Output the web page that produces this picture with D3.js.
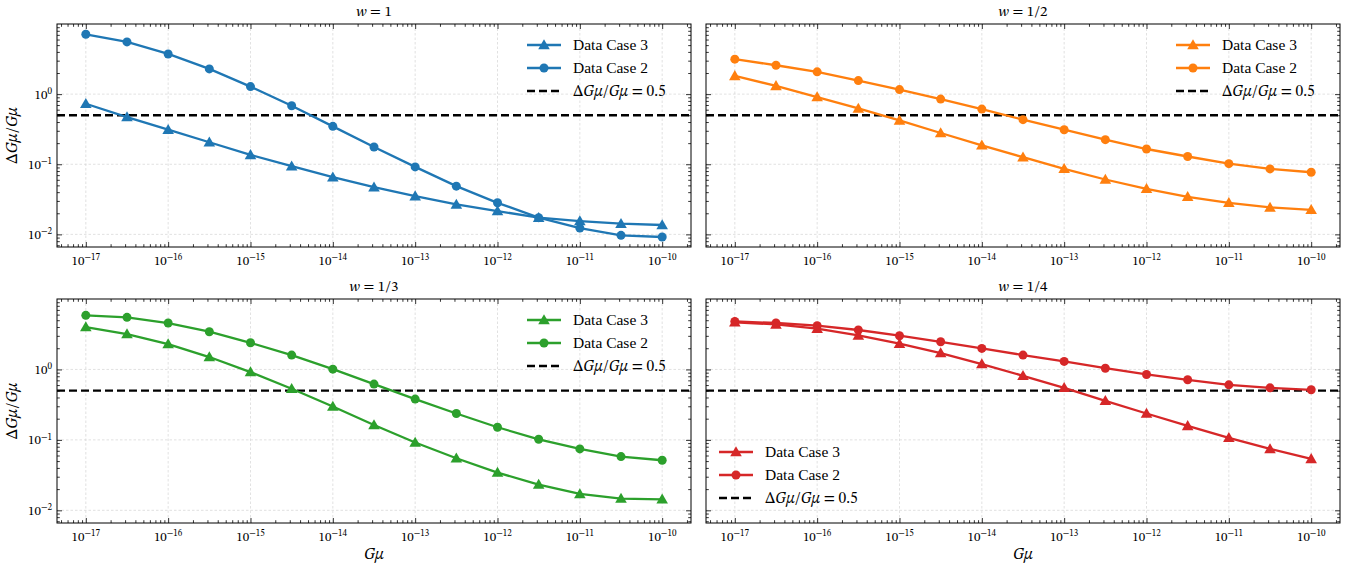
<!DOCTYPE html>
<html>
<head>
<meta charset="utf-8">
<script src="https://cdn.jsdelivr.net/npm/d3@7"></script>
<style>
  body { margin: 0; background: #fff; }
</style>
</head>
<body>
<div id="chart"></div>
<script>
// G mu values: half-decade steps from 1e-17 to 1e-10
const gmu = d3.range(0, 15).map(i => Math.pow(10, -17 + i / 2));

const titles = ["1", "1/2", "1/3", "1/4"];
const colors = ["#1f77b4", "#ff7f0e", "#2ca02c", "#d62728"];

const case3_w1 = [0.729, 0.471, 0.311, 0.206, 0.136, 0.0937, 0.0654, 0.0471, 0.0351, 0.0267, 0.0215, 0.0173, 0.0155, 0.0142, 0.0136];
const case2_w1 = [7.13, 5.55, 3.74, 2.29, 1.28, 0.683, 0.347, 0.176, 0.0917, 0.0487, 0.0282, 0.0173, 0.0123, 0.00968, 0.00917];

const case3_w2 = [1.82, 1.31, 0.906, 0.625, 0.422, 0.279, 0.186, 0.126, 0.0859, 0.0606, 0.0446, 0.0343, 0.0282, 0.0242, 0.0224];
const case2_w2 = [3.15, 2.58, 2.08, 1.56, 1.16, 0.849, 0.612, 0.432, 0.311, 0.224, 0.165, 0.129, 0.102, 0.0859, 0.0769];

const case3_w3 = [4.00, 3.18, 2.29, 1.50, 0.916, 0.531, 0.298, 0.163, 0.0917, 0.0549, 0.0343, 0.0232, 0.0171, 0.0147, 0.0143];
const case2_w3 = [5.86, 5.49, 4.56, 3.43, 2.39, 1.60, 1.01, 0.620, 0.379, 0.237, 0.151, 0.102, 0.0744, 0.0579, 0.0514];

const case3_w4 = [4.66, 4.36, 3.79, 3.04, 2.32, 1.71, 1.19, 0.813, 0.548, 0.359, 0.237, 0.158, 0.107, 0.0744, 0.0537];
const case2_w4 = [4.81, 4.56, 4.18, 3.63, 3.01, 2.47, 1.99, 1.60, 1.30, 1.04, 0.849, 0.713, 0.605, 0.548, 0.514];

const threshold = 0.5;
const xMajor = d3.range(-17, -9).map(e => Math.pow(10, e));
const yMajor = [1e-2, 1e-1, 1e0];

const case3 = [case3_w1, case3_w2, case3_w3, case3_w4];
const case2 = [case2_w1, case2_w2, case2_w3, case2_w4];
const legendPos = ["ur", "ur", "ur", "ll"];

const W = 1372, H = 563;
const cols = [[57, 691], [706, 1340]];
const rows = [[24, 247], [299, 523]];
const FONT = "Liberation Serif";
const MATH = "STIX Two Text";

const svg = d3.select("#chart").append("svg")
  .attr("width", W).attr("height", H);

function minorTicks(lo, hi, dom) {
  const out = [];
  for (let e = lo; e <= hi; e++)
    for (let m = 2; m <= 9; m++) {
      const v = m * Math.pow(10, e);
      if (v >= dom[0] && v <= dom[1]) out.push(v);
    }
  return out;
}

const xDom = [Math.pow(10, -17.35), Math.pow(10, -9.65)];
const yDom = [Math.pow(10, -2.18), Math.pow(10, 1.0)];
const xMinor = minorTicks(-18, -10, xDom);
const yMinor = minorTicks(-3, 0, yDom);

function txt(sel, fam) {
  return sel.append("text").attr("font-family", fam || FONT).attr("fill", "#000");
}

function supLabel(sel, exp, fs) {
  sel.append("tspan").text("10");
  sel.append("tspan").attr("dy", "-0.5em").attr("font-size", fs * 0.7)
     .text(exp < 0 ? "\u2212" + (-exp) : exp);
}

function mathGmu(t, withEq) {
  t.append("tspan").text("\u0394");
  t.append("tspan").attr("font-style", "italic").text("G\u03bc");
  t.append("tspan").text("/");
  t.append("tspan").attr("font-style", "italic").text("G\u03bc");
  if (withEq) t.append("tspan").text(" = 0.5");
}

function drawPanel(k) {
  const c = cols[k % 2], r = rows[Math.floor(k / 2)];
  const w = c[1] - c[0], h = r[1] - r[0];
  const g = svg.append("g").attr("transform", `translate(${c[0]},${r[0]})`);

  const x = d3.scaleLog().domain(xDom).range([0, w]);
  const y = d3.scaleLog().domain(yDom).range([h, 0]);

  // grid
  g.append("g").selectAll("line").data(xMajor).join("line")
    .attr("x1", d => x(d)).attr("x2", d => x(d)).attr("y1", 0).attr("y2", h)
    .attr("stroke", "#d4d4d4").attr("stroke-width", 0.7).attr("stroke-dasharray", "2.5,2");
  g.append("g").selectAll("line").data(yMajor).join("line")
    .attr("y1", d => y(d)).attr("y2", d => y(d)).attr("x1", 0).attr("x2", w)
    .attr("stroke", "#d4d4d4").attr("stroke-width", 0.7).attr("stroke-dasharray", "2.5,2");

  // axes (ticks inward, all four sides)
  const axes = [
    [() => d3.axisBottom(x), `translate(0,${h})`, xMajor, xMinor],
    [() => d3.axisTop(x), null, xMajor, xMinor],
    [() => d3.axisLeft(y), null, yMajor, yMinor],
    [() => d3.axisRight(y), `translate(${w},0)`, yMajor, yMinor]
  ];
  axes.forEach(([make, tr, maj, mino]) => {
    [[maj, 5], [mino, 2.8]].forEach(([vals, size]) => {
      const a = g.append("g").call(make().tickValues(vals).tickSizeInner(-size)
        .tickSizeOuter(0).tickFormat(""));
      if (tr) a.attr("transform", tr);
      a.select(".domain").remove();
      a.selectAll("line").attr("stroke", "#000").attr("stroke-width", 0.8);
    });
  });

  // tick labels
  xMajor.forEach(v => {
    const t = txt(g, MATH).attr("x", x(v)).attr("y", h + 18)
      .attr("text-anchor", "middle").attr("font-size", 13);
    supLabel(t, Math.round(Math.log10(v)), 13);
  });
  if (k % 2 === 0) {
    yMajor.forEach(v => {
      const t = txt(g, MATH).attr("x", -5).attr("y", y(v) + 4.5)
        .attr("text-anchor", "end").attr("font-size", 13);
      supLabel(t, Math.round(Math.log10(v)), 13);
    });
    const yl = txt(g, MATH)
      .attr("transform", `translate(-40,${h / 2}) rotate(-90)`)
      .attr("text-anchor", "middle").attr("font-size", 16);
    mathGmu(yl, false);
  }
  if (k >= 2) {
    txt(g, MATH).attr("x", w / 2).attr("y", h + 36)
      .attr("text-anchor", "middle").attr("font-size", 16)
      .attr("font-style", "italic").text("G\u03bc");
  }

  // title
  const tt = txt(g, MATH).attr("x", w / 2).attr("y", -8)
    .attr("text-anchor", "middle").attr("font-size", 15);
  tt.append("tspan").attr("font-style", "italic").text("w");
  tt.append("tspan").text(" = " + titles[k]);

  // threshold
  g.append("line").attr("x1", 0).attr("x2", w)
    .attr("y1", y(threshold)).attr("y2", y(threshold))
    .attr("stroke", "#000").attr("stroke-width", 2.3).attr("stroke-dasharray", "8,4");

  const line = d3.line().x(d => x(d[0])).y(d => y(d[1]));
  const col = colors[k];
  const tri = d3.symbol().type(d3.symbolTriangle).size(58);

  const s3 = gmu.map((v, i) => [v, case3[k][i]]);
  const s2 = gmu.map((v, i) => [v, case2[k][i]]);

  g.append("path").datum(s3).attr("d", line).attr("fill", "none")
    .attr("stroke", col).attr("stroke-width", 2.3);
  g.append("g").selectAll("path").data(s3).join("path")
    .attr("d", tri).attr("transform", d => `translate(${x(d[0])},${y(d[1]) + 0.9})`)
    .attr("fill", col);

  g.append("path").datum(s2).attr("d", line).attr("fill", "none")
    .attr("stroke", col).attr("stroke-width", 2.3);
  g.append("g").selectAll("circle").data(s2).join("circle")
    .attr("cx", d => x(d[0])).attr("cy", d => y(d[1])).attr("r", 4.5)
    .attr("fill", col);

  // frame
  g.append("rect").attr("width", w).attr("height", h)
    .attr("fill", "none").attr("stroke", "#000").attr("stroke-width", 1);

  // legend
  let lx, ly;
  if (legendPos[k] === "ur") { lx = w - 164; ly = 21; }
  else { lx = 13; ly = 153; }
  const items = [
    { label: "Data Case 3", type: "tri" },
    { label: "Data Case 2", type: "circ" },
    { label: "thr", type: "dash" }
  ];
  items.forEach((it, i) => {
    const yy = ly + i * 23;
    const lg = g.append("g").attr("transform", `translate(${lx},${yy})`);
    if (it.type === "dash") {
      lg.append("line").attr("x1", 0).attr("x2", 34).attr("stroke", "#000")
        .attr("stroke-width", 2.3).attr("stroke-dasharray", "8,4");
    } else {
      lg.append("line").attr("x1", 0).attr("x2", 34).attr("stroke", col).attr("stroke-width", 2.3);
      if (it.type === "tri") lg.append("path").attr("d", tri).attr("transform", "translate(17,0.9)").attr("fill", col);
      else lg.append("circle").attr("cx", 17).attr("r", 4.5).attr("fill", col);
    }
    const t = txt(lg, it.type === "dash" ? MATH : FONT).attr("x", 46).attr("y", 5).attr("font-size", 15.5);
    if (it.type === "dash") mathGmu(t, true);
    else t.text(it.label);
  });
}

[0, 1, 2, 3].forEach(drawPanel);
</script>
</body>
</html>
